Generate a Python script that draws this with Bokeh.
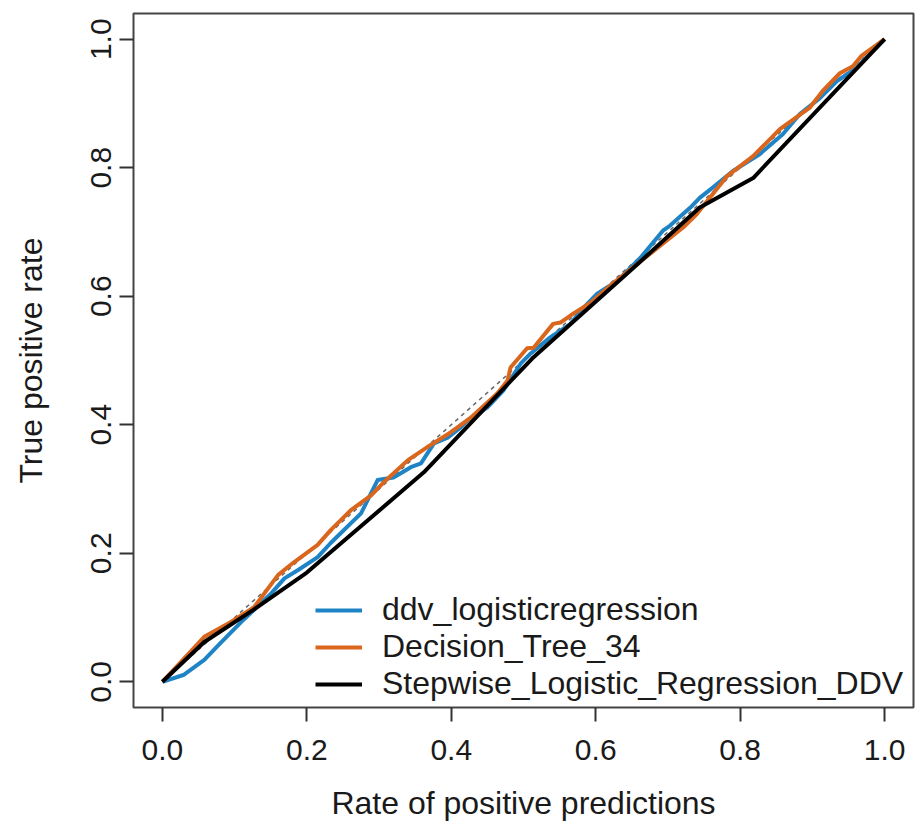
from bokeh.plotting import figure
from bokeh.models import FixedTicker, Legend, LegendItem, Range1d
from bokeh.embed import file_html
from bokeh.resources import INLINE

# ---- data ----
series_names = ["ddv_logisticregression", "Decision_Tree_34", "Stepwise_Logistic_Regression_DDV"]
series_colors = ["#1F84C6", "#D9661C", "#000000"]

ddv_x = [0, .030, .058, .081, .109, .127, .151, .169, .188, .215, .233, .275, .298, .320, .344, .358,
         .376, .395, .413, .423, .450, .472, .496, .510, .537, .565, .583, .602, .630, .662, .693, .703,
         .731, .744, .762, .790, .827, .859, .883, .910, .934, .961, .979, 1]
ddv_y = [0, .011, .034, .061, .093, .112, .138, .161, .174, .194, .216, .262, .314, .318, .334, .340,
         .371, .380, .396, .407, .427, .453, .495, .511, .536, .557, .582, .604, .624, .660, .702, .710,
         .738, .753, .769, .795, .821, .852, .884, .908, .935, .955, .977, 1]

tree_x = [0, .058, .095, .127, .160, .182, .192, .215, .233, .261, .289, .307, .340, .372, .399, .427,
          .464, .478, .482, .505, .514, .541, .551, .565, .593, .624, .675, .721, .740, .782, .818, .855,
          .896, .914, .938, .956, .968, 1]
tree_y = [0, .070, .093, .116, .166, .186, .194, .213, .236, .267, .290, .311, .345, .369, .388, .411,
          .449, .469, .489, .519, .520, .557, .559, .570, .590, .620, .666, .707, .728, .787, .818, .860,
          .893, .919, .947, .958, .974, 1]

step_x = [0, 0.058, 0.126, 0.200, 0.362, 0.512, 0.652, 0.744, 0.818, 1.0]
step_y = [0, 0.062, 0.112, 0.170, 0.326, 0.503, 0.644, 0.738, 0.784, 1.0]

diag_x = [0, 1]
diag_y = [0, 1]

tick_values = [0.0, 0.2, 0.4, 0.6, 0.8, 1.0]
tick_labels = ["0.0", "0.2", "0.4", "0.6", "0.8", "1.0"]
x_title = "Rate of positive predictions"
y_title = "True positive rate"

FONT = "Liberation Sans"
TXT = "#1a1a1a"

p = figure(width=915, height=827, output_backend="svg", toolbar_location=None,
           min_border_left=133, min_border_right=2, min_border_top=13, min_border_bottom=120,
           x_range=Range1d(-0.04, 1.04), y_range=Range1d(-0.04, 1.04))
p.grid.visible = False
p.outline_line_color = "#444444"
p.outline_line_width = 2
p.background_fill_color = "white"
p.border_fill_color = "white"

overrides = {v: l for v, l in zip(tick_values, tick_labels)}
for ax in (p.xaxis[0], p.yaxis[0]):
    ax.ticker = FixedTicker(ticks=tick_values, minor_ticks=[])
    ax.major_label_overrides = overrides
    ax.axis_line_color = None
    ax.major_tick_line_color = "#333333"
    ax.major_tick_line_width = 2
    ax.major_tick_out = 14
    ax.major_tick_in = 0
    ax.minor_tick_line_color = None
    ax.major_label_text_font = FONT
    ax.major_label_text_font_size = "30px"
    ax.major_label_text_color = TXT
    ax.axis_label_text_font = FONT
    ax.axis_label_text_font_size = "32px"
    ax.axis_label_text_font_style = "normal"
    ax.axis_label_text_color = TXT

p.xaxis.axis_label = x_title
p.yaxis.axis_label = y_title
p.xaxis.major_label_standoff = 18
p.xaxis.axis_label_standoff = 22
p.yaxis.major_label_orientation = "vertical"
p.yaxis.major_label_standoff = 8
p.yaxis.axis_label_standoff = 40

p.line(diag_x, diag_y, line_color="#666666", line_width=1.5, line_dash="4 4")
r1 = p.line(ddv_x, ddv_y, line_color=series_colors[0], line_width=4, line_join="round")
r2 = p.line(tree_x, tree_y, line_color=series_colors[1], line_width=4, line_join="round")
r3 = p.line(step_x, step_y, line_color=series_colors[2], line_width=4, line_join="round")

# one legend per row; rows spaced just enough that their text boxes do not overlap
row_offsets = [79, 42, 5]
for name, rend, off in zip(series_names, [r1, r2, r3], row_offsets):
    lg = Legend(items=[LegendItem(label=name, renderers=[rend])],
                location=(182, off), orientation="vertical",
                border_line_color=None, background_fill_alpha=0,
                padding=0, margin=0, spacing=0,
                glyph_width=47, glyph_height=20, label_standoff=20,
                label_text_font=FONT, label_text_font_size="32px", label_text_color=TXT)
    p.add_layout(lg)

open("out.html", "w").write(file_html(p, INLINE))
